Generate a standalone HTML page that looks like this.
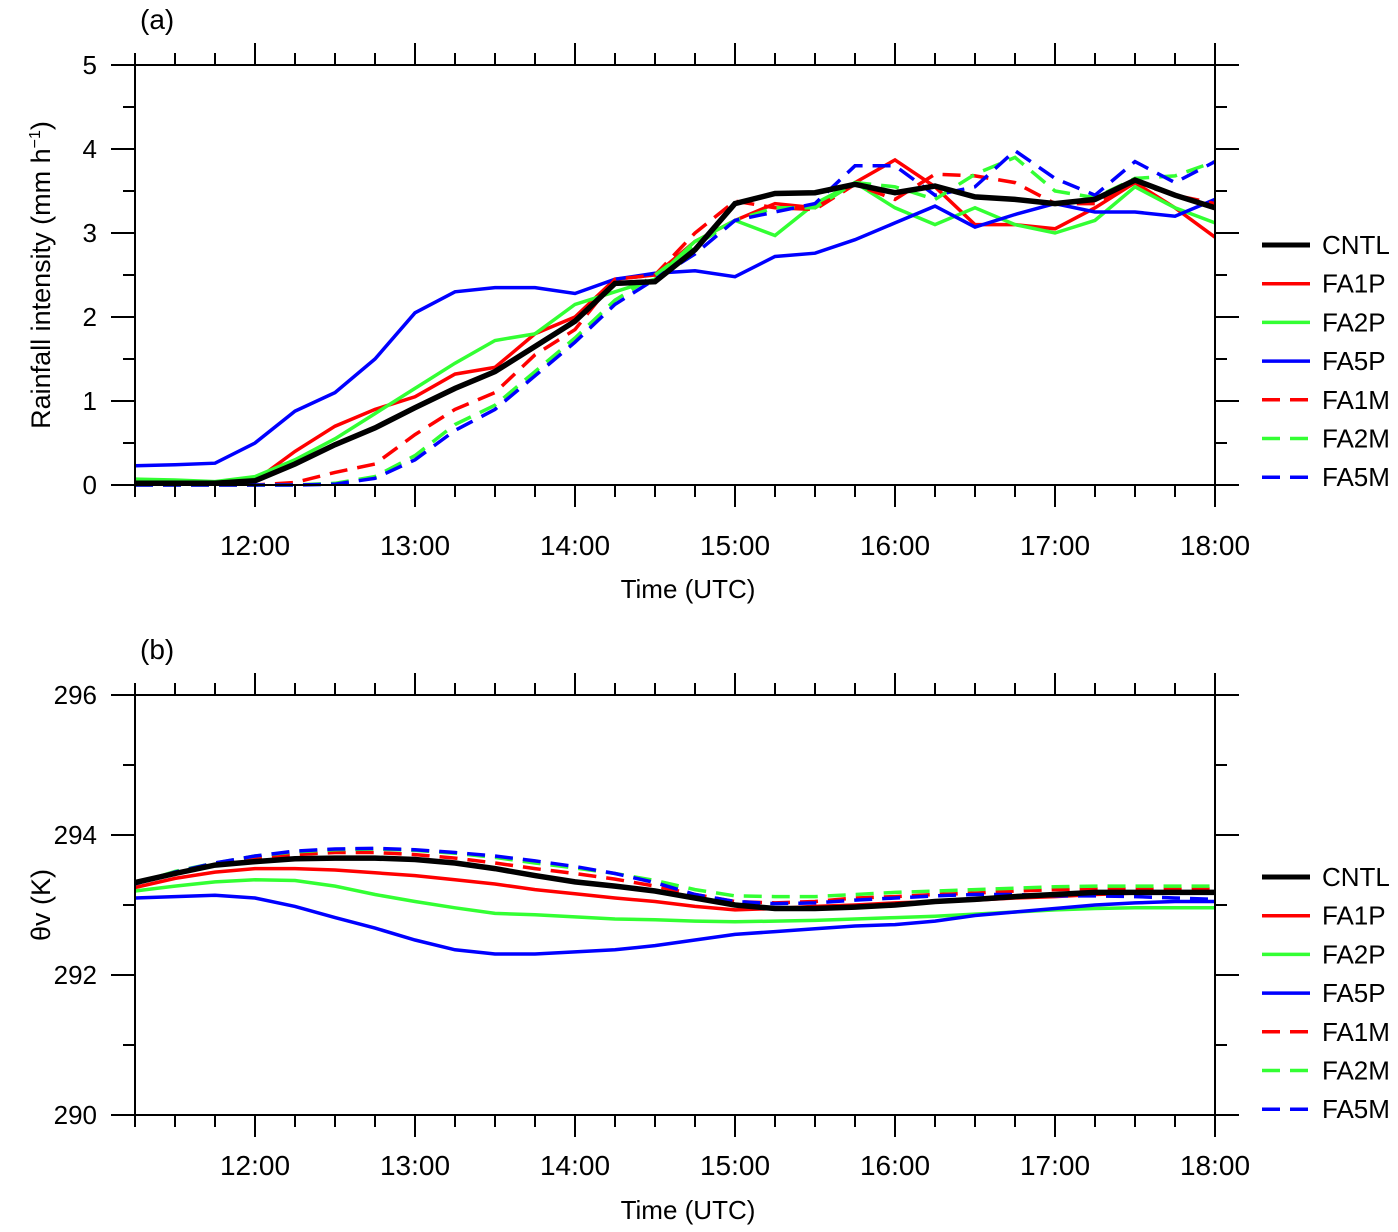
<!DOCTYPE html>
<html><head><meta charset="utf-8"><style>
body{margin:0;background:#fff}
svg text{font-family:"Liberation Sans",sans-serif;fill:#000}
</style></head><body>
<svg id="c" width="1398" height="1227" xmlns="http://www.w3.org/2000/svg"></svg>
<script>
const times = ["11:15","11:30","11:45","12:00","12:15","12:30","12:45","13:00","13:15","13:30","13:45","14:00","14:15","14:30","14:45","15:00","15:15","15:30","15:45","16:00","16:15","16:30","16:45","17:00","17:15","17:30","17:45","18:00"];
const xTickLabels = ["12:00","13:00","14:00","15:00","16:00","17:00","18:00"];
const seriesNames = ["CNTL","FA1P","FA2P","FA5P","FA1M","FA2M","FA5M"];
const rainCNTL = [0.02,0.02,0.02,0.05,0.25,0.48,0.68,0.92,1.15,1.35,1.65,1.95,2.4,2.42,2.8,3.35,3.47,3.48,3.58,3.48,3.56,3.43,3.4,3.35,3.4,3.63,3.45,3.3];
const rainFA1P = [0.02,0.02,0.02,0.05,0.4,0.7,0.9,1.05,1.32,1.4,1.8,2.0,2.45,2.5,2.9,3.15,3.35,3.3,3.6,3.87,3.55,3.1,3.1,3.05,3.3,3.6,3.3,2.95];
const rainFA2P = [0.07,0.06,0.04,0.1,0.3,0.55,0.85,1.15,1.45,1.72,1.8,2.15,2.3,2.45,2.9,3.15,2.97,3.35,3.6,3.3,3.1,3.3,3.1,3.0,3.15,3.55,3.3,3.12];
const rainFA5P = [0.23,0.24,0.26,0.5,0.88,1.1,1.5,2.05,2.3,2.35,2.35,2.28,2.45,2.52,2.55,2.48,2.72,2.76,2.92,3.12,3.32,3.07,3.22,3.35,3.25,3.25,3.2,3.4];
const rainFA1M = [0,0,0,0,0.03,0.15,0.25,0.6,0.9,1.1,1.55,1.85,2.45,2.5,3.0,3.38,3.3,3.28,3.58,3.4,3.7,3.68,3.6,3.35,3.35,3.6,3.45,3.35];
const rainFA2M = [0,0,0,0,0,0.02,0.1,0.35,0.72,0.95,1.35,1.75,2.2,2.5,2.85,3.15,3.3,3.3,3.6,3.55,3.4,3.7,3.9,3.5,3.42,3.65,3.68,3.85];
const rainFA5M = [0,0,0,0,0,0.01,0.08,0.3,0.65,0.9,1.3,1.7,2.15,2.45,2.75,3.15,3.25,3.35,3.8,3.8,3.45,3.55,3.98,3.65,3.45,3.85,3.6,3.85];
const thCNTL = [293.32,293.45,293.57,293.62,293.66,293.67,293.67,293.65,293.6,293.52,293.42,293.33,293.27,293.2,293.1,293.0,292.95,292.95,292.97,293.0,293.05,293.08,293.12,293.15,293.18,293.18,293.18,293.18];
const thFA1P = [293.25,293.38,293.47,293.52,293.52,293.5,293.46,293.42,293.36,293.3,293.22,293.16,293.1,293.05,292.98,292.93,292.95,292.98,293.0,293.03,293.05,293.07,293.1,293.12,293.15,293.17,293.18,293.18];
const thFA2P = [293.2,293.27,293.33,293.36,293.35,293.27,293.15,293.05,292.96,292.88,292.86,292.83,292.8,292.79,292.77,292.76,292.77,292.78,292.8,292.82,292.84,292.87,292.9,292.93,292.95,292.96,292.96,292.96];
const thFA5P = [293.1,293.12,293.14,293.1,292.98,292.82,292.67,292.5,292.36,292.3,292.3,292.33,292.36,292.42,292.5,292.58,292.62,292.66,292.7,292.72,292.77,292.85,292.9,292.95,293.0,293.03,293.05,293.05];
const thFA1M = [293.3,293.47,293.6,293.68,293.72,293.75,293.75,293.72,293.67,293.6,293.52,293.45,293.37,293.27,293.15,293.05,293.03,293.05,293.1,293.12,293.15,293.17,293.2,293.22,293.23,293.23,293.23,293.23];
const thFA2M = [293.3,293.48,293.6,293.7,293.76,293.79,293.8,293.78,293.74,293.68,293.6,293.53,293.45,293.35,293.22,293.13,293.12,293.12,293.15,293.18,293.2,293.22,293.24,293.26,293.27,293.27,293.27,293.27];
const thFA5M = [293.3,293.47,293.6,293.7,293.77,293.8,293.81,293.79,293.75,293.7,293.63,293.55,293.45,293.32,293.15,293.05,293.02,293.03,293.07,293.1,293.13,293.15,293.15,293.13,293.13,293.12,293.1,293.08];
const rainTicks = [0,1,2,3,4,5];
const thTicks = [290,292,294,296];

const svg = document.getElementById('c');
const NS = 'http://www.w3.org/2000/svg';
function mk(tag, attrs, parent){const e=document.createElementNS(NS,tag);for(const k in attrs)e.setAttribute(k,attrs[k]);(parent||svg).appendChild(e);return e;}
function tmin(t){const p=t.split(':');return +p[0]*60+ +p[1];}
const X0=135,X1=1215;
function xs(t){return X0+(tmin(t)-tmin("11:15"))/(tmin("18:00")-tmin("11:15"))*(X1-X0);}
const colors=["#000","#f00","#3f3","#00f","#f00","#3f3","#00f"];

function panel(id, top, bot, ymin, ymax, ticks, minorStep, series, ytitle, letter, legTop, lblOff, titleOff){
  const g=mk('g',{});
  
  
  const ys=v=>bot-(v-ymin)/(ymax-ymin)*(bot-top);
  series.forEach((s,i)=>{
    const d=s.map((v,j)=>(j?'L':'M')+xs(times[j]).toFixed(1)+','+ys(v).toFixed(1)).join('');
    const p=mk('path',{d:d,fill:'none',stroke:colors[i],'stroke-width':i==0?5.5:3.5,'stroke-linejoin':'miter'},g);
    if(i>=4)p.setAttribute('stroke-dasharray','18,10');
    
    
  });
  g.appendChild(g.firstChild);
  const fr=mk('rect',{x:X0,y:top,width:X1-X0,height:bot-top,fill:'none',stroke:'#000','stroke-width':2},g);
  
  
  for(let m=tmin("11:15");m<=tmin("18:00");m+=15){
    const x=X0+(m-tmin("11:15"))/(405)*(X1-X0);
    const L=(m%60==0)?22:12;
    mk('line',{x1:x,x2:x,y1:bot,y2:bot+L,stroke:'#000','stroke-width':2},g);
    mk('line',{x1:x,x2:x,y1:top,y2:top-L,stroke:'#000','stroke-width':2},g);
  }
  xTickLabels.forEach(t=>{
    const tx=mk('text',{x:xs(t),y:bot+lblOff,'text-anchor':'middle','font-size':28},g);tx.textContent=t;
    
    
  });
  for(let v=ymin;v<=ymax+1e-9;v+=minorStep){
    const y=ys(v);
    const major=ticks.some(t=>Math.abs(t-v)<1e-6);
    const L=major?24:12;
    mk('line',{x1:X0,x2:X0-L,y1:y,y2:y,stroke:'#000','stroke-width':2},g);
    mk('line',{x1:X1,x2:X1+L,y1:y,y2:y,stroke:'#000','stroke-width':2},g);
  }
  ticks.forEach(v=>{
    const tx=mk('text',{x:97,y:ys(v)+9,'text-anchor':'end','font-size':26},g);tx.textContent=v;
    
    
  });
  const xt=mk('text',{x:688,y:bot+titleOff,'text-anchor':'middle','font-size':26},g);xt.textContent='Time (UTC)';
  
  
  const lt=mk('text',{x:140,y:top-36,'font-size':28},g);lt.textContent=letter;
  
  
  const yt=mk('text',{x:0,y:0,'text-anchor':'middle','font-size':27,transform:'translate(50,'+((top+bot)/2)+') rotate(-90)'},g);
  yt.innerHTML=ytitle;
  
  
  seriesNames.forEach((n,i)=>{
    const y=legTop+i*38.7;
    const ln=mk('line',{x1:1262,x2:1310,y1:y,y2:y,stroke:colors[i],'stroke-width':i==0?5:3.5},g);
    if(i>=4)ln.setAttribute('stroke-dasharray','18,10');
    
    
    const tx=mk('text',{x:1322,y:y+9,'font-size':26},g);tx.textContent=n;
    
    
  });
}
panel('a',65,485,0,5,rainTicks,0.5,[rainCNTL,rainFA1P,rainFA2P,rainFA5P,rainFA1M,rainFA2M,rainFA5M],'Rainfall intensity (mm h<tspan dy="-10" font-size="16">−1</tspan><tspan dy="10">)</tspan>','(a)',245,70,113);
panel('b',695,1115,290,296,thTicks,1,[thCNTL,thFA1P,thFA2P,thFA5P,thFA1M,thFA2M,thFA5M],'θv (K)','(b)',877,60,104);
</script>
</body></html>
